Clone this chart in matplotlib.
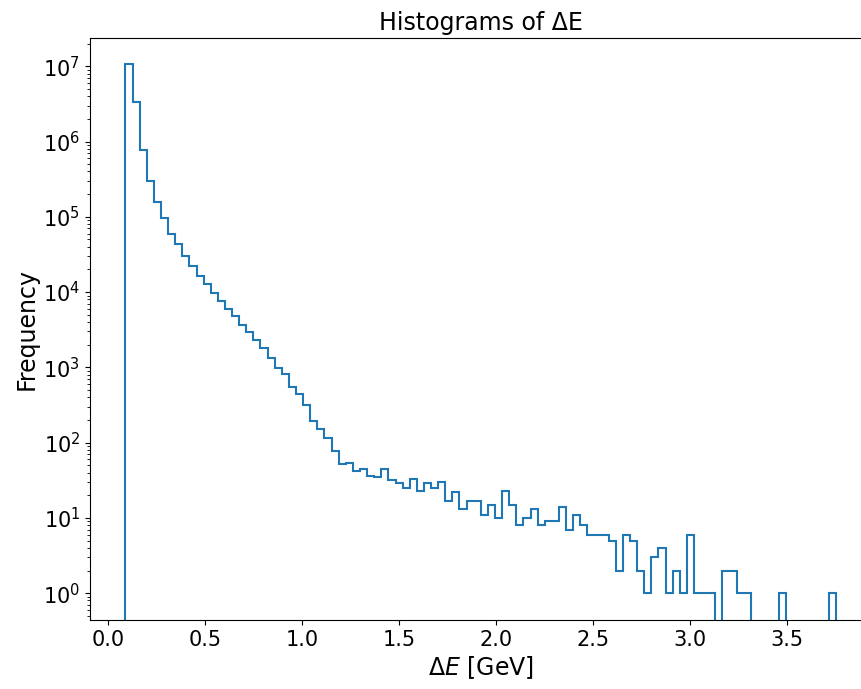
import numpy as np
import matplotlib
matplotlib.use('Agg')
import matplotlib.pyplot as plt

# Диапазон и число бинов гистограммы dE.
e_min = 0.09
e_max = 3.755
n_bins = 100

# Значения в бинах.
counts = [
    10600000, 3300000, 760000, 300000, 157000, 95000, 60000, 43000, 30000, 22000,
    16400, 12700, 9700, 7500, 6000, 4750, 3700, 2990, 2310, 1830,
    1350, 990, 810, 554, 440, 317, 194, 152, 116, 78,
    52, 54, 42, 45, 36, 35, 45, 32, 29, 25,
    33, 23, 29, 25, 30, 17, 22, 13, 17, 17,
    11, 15, 10, 23, 15, 8, 10, 13, 8, 9,
    9, 14, 7, 11, 8, 6, 6, 6, 5, 2,
    6, 5, 2, 1, 3, 4, 1, 2, 1, 6,
    1, 1, 1, 0, 2, 2, 1, 1, 0, 0,
    0, 0, 1, 0, 0, 0, 0, 0, 0, 1,
]

edges = np.linspace(e_min, e_max, n_bins + 1)
centers = (edges[:-1] + edges[1:]) / 2

fig = plt.figure(figsize=(8.61, 6.89), dpi=100)
ax = fig.add_axes([0.1045, 0.1001, 0.9078, 0.8447])
ax.hist(centers, bins=edges, weights=counts, histtype='step', log=True,
        linewidth=1.5, color='C0')
ax.set_xlim(-0.093, 3.938)
ax.set_ylim(0.44, 2.37e7)
ax.set_title('Histograms of ΔE', fontsize=17)
ax.set_xlabel(r'$\Delta E$ [GeV]', fontsize=17, labelpad=3)
ax.set_ylabel('Frequency', fontsize=17, labelpad=3)
ax.tick_params(labelsize=15)

plt.savefig('out.png', dpi=100)
